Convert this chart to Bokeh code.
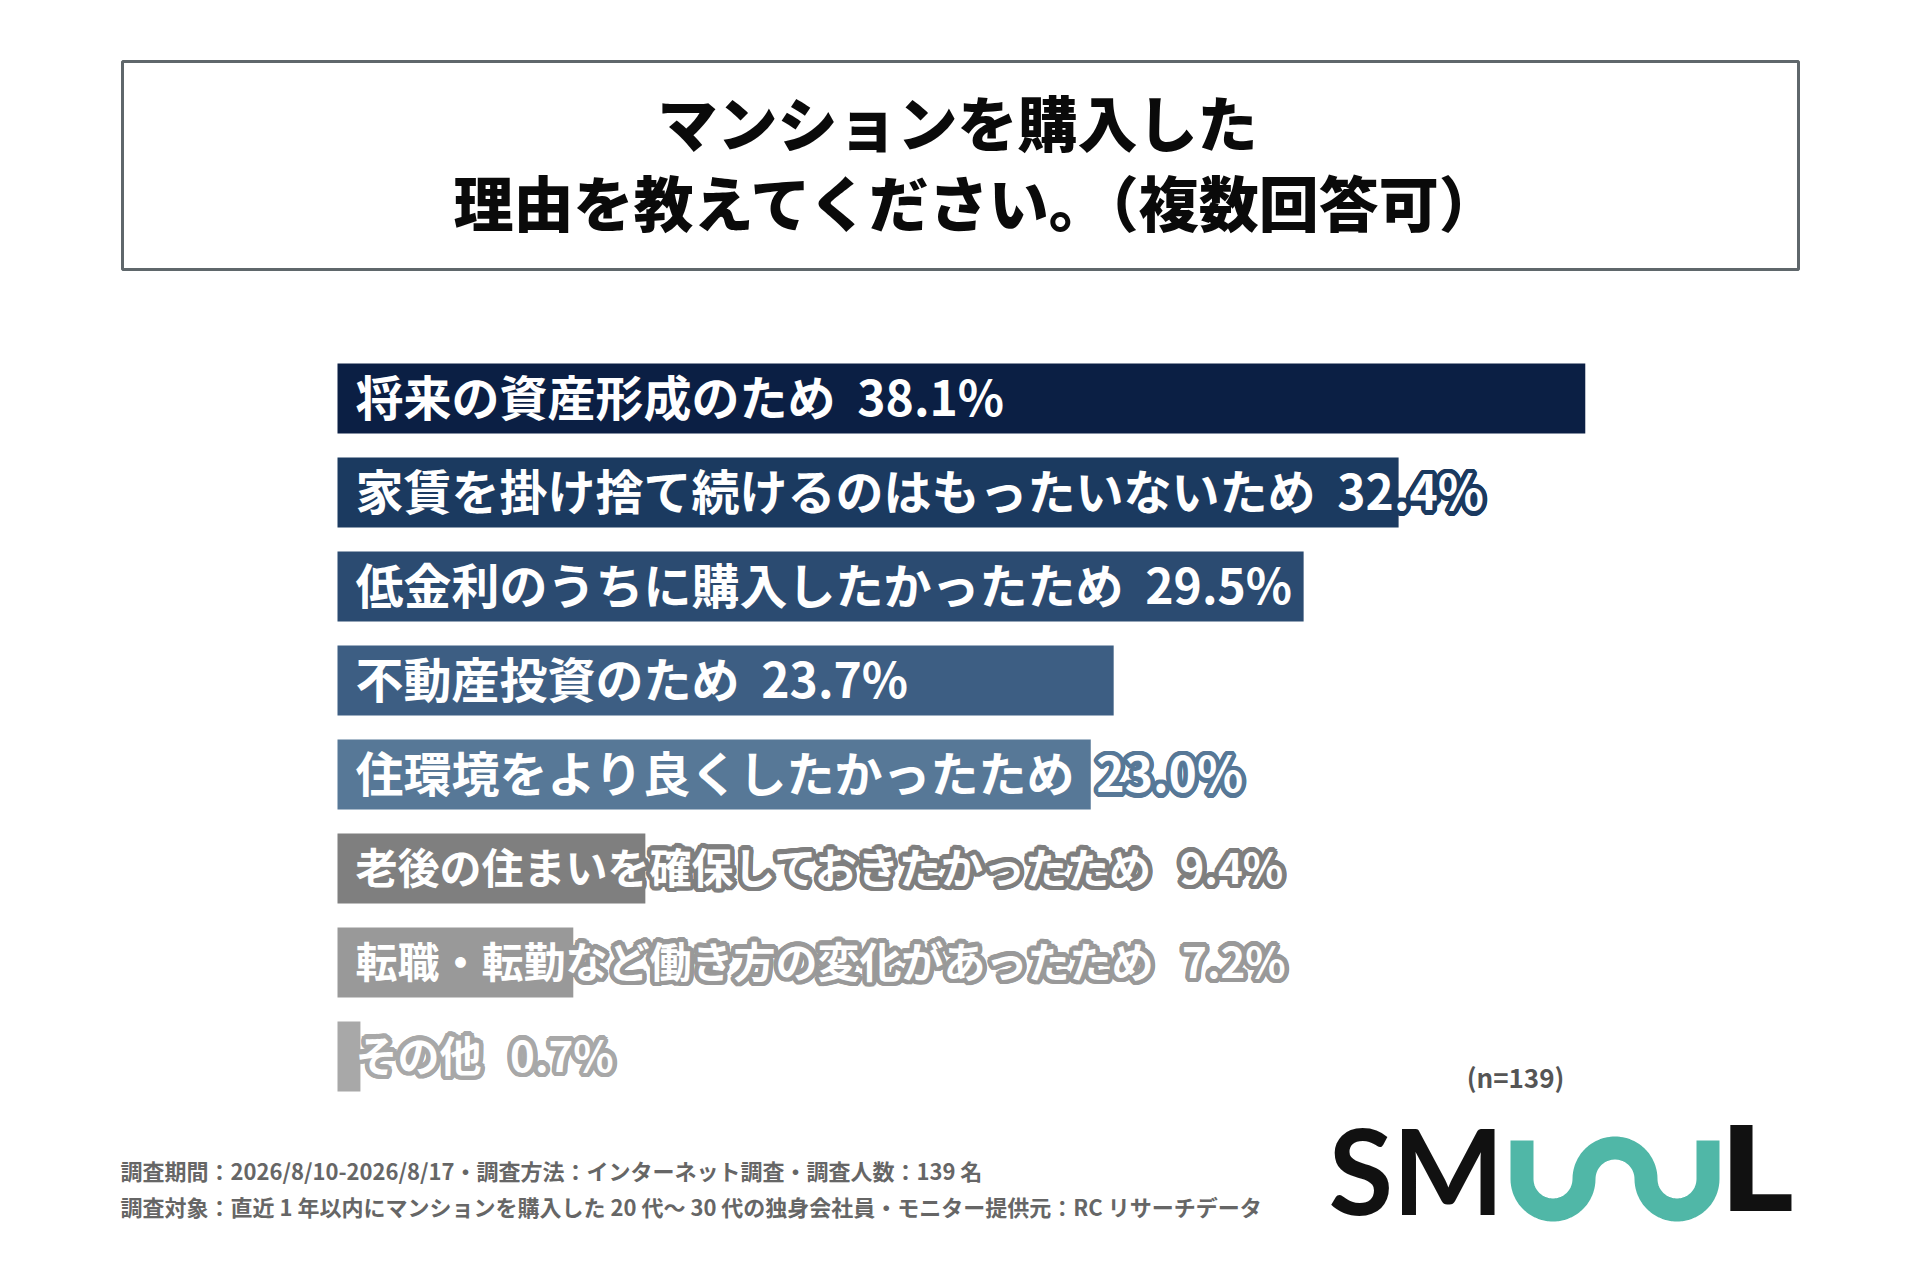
import numpy as np
from bokeh.plotting import figure
from bokeh.models import Range1d, ColumnDataSource
from bokeh.transform import dodge
from bokeh.core.properties import value
from bokeh.embed import file_html
from bokeh.resources import INLINE

# ---------------- data ----------------
categories = [
    "将来の資産形成のため",
    "家賃を掛け捨て続けるのはもったいないため",
    "低金利のうちに購入したかったため",
    "不動産投資のため",
    "住環境をより良くしたかったため",
    "老後の住まいを確保しておきたかったため",
    "転職・転勤など働き方の変化があったため",
    "その他",
]
values = [38.1, 32.4, 29.5, 23.7, 23.0, 9.4, 7.2, 0.7]
bar_colors = ["#0b1f44", "#1b3a60", "#2b4b71", "#3d5e83", "#577897",
              "#7f7f7f", "#999999", "#a8a8a8"]
label_sizes = ["48px", "48px", "48px", "48px", "48px", "42px", "42px", "42px"]
label_gaps = [2, 2, 2, 2, 2, 3, 3, 3]
title_lines = ["マンションを購入した", "理由を教えてください。（複数回答可）"]
footer_lines = [
    "調査期間：2026/8/10-2026/8/17・調査方法：インターネット調査・調査人数：139 名",
    "調査対象：直近 1 年以内にマンションを購入した 20 代～ 30 代の独身会社員・モニター提供元：RC リサーチデータ",
]
sample_note = "(n=139)"

# ---------------- layout ----------------
W, H = 1904, 1264
PX0, PPU = 337.0, 32.75         # screen x of 0 %, pixels per %
ROW0, ROWSTEP = 398.0, 94.0     # screen y of first bar centre, row pitch

x_range = Range1d((0 - PX0) / PPU, (W - PX0) / PPU)
y_range = Range1d((H - ROW0) / ROWSTEP, (0 - ROW0) / ROWSTEP)

p = figure(width=W, height=H, x_range=x_range, y_range=y_range,
           output_backend="svg", toolbar_location=None, min_border=0,
           x_axis_location=None, y_axis_location=None)
p.grid.visible = False
p.outline_line_color = None
p.background_fill_color = "white"
p.border_fill_color = "white"
p.extra_x_ranges = {"px": Range1d(0, W)}
p.extra_y_ranges = {"px": Range1d(H, 0)}

JP = value("Noto Sans CJK JP")
JP_HEAVY = value("'Noto Sans CJK JP Black', 'Noto Sans CJK JP'")

# ---------------- bars ----------------
src = ColumnDataSource(dict(
    y=list(range(len(categories))),
    v=values,
    c=bar_colors,
    fs=label_sizes,
    label=[f"{c}{chr(0xa0) * g}{v:.1f}%"
           for c, v, g in zip(categories, values, label_gaps)],
))
p.hbar(y="y", left=0, right="v", height=0.745, fill_color="c",
       line_color=None, source=src)

# outlined labels: outline copies in the bar colour, then white text
label_y = dodge("y", -0.035, range=p.y_range)
angles = np.linspace(0, 2 * np.pi, 24, endpoint=False)
R = 4.5
for a in angles:
    p.text(x=0, y=label_y, text="label", source=src,
           x_offset=18 + R * np.cos(a), y_offset=R * np.sin(a),
           text_color="c", text_baseline="middle", text_align="left",
           text_font=JP, text_font_style="bold", text_font_size="fs")
p.text(x=0, y=label_y, text="label", source=src, x_offset=18, y_offset=0,
       text_color="white", text_baseline="middle", text_align="left",
       text_font=JP, text_font_style="bold", text_font_size="fs")

# ---------------- title box ----------------
p.quad(left=[122], right=[1798], top=[61], bottom=[269], fill_color=None,
       line_color="#5f676b", line_width=3, x_range_name="px", y_range_name="px")
p.text(x=[957, 978], y=[120, 200], text=title_lines,
       text_align="center", text_baseline="middle", text_color="#0a0a0a",
       text_font=JP_HEAVY, text_font_style="bold", text_font_size="60px",
       x_range_name="px", y_range_name="px")

# ---------------- notes ----------------
p.text(x=[120, 120], y=[1169, 1205], text=footer_lines,
       text_align="left", text_baseline="middle", text_color="#666666",
       text_font=JP, text_font_style="bold", text_font_size="22px",
       x_range_name="px", y_range_name="px")
p.text(x=[1515], y=[1076], text=[sample_note],
       text_align="center", text_baseline="middle", text_color="#555555",
       text_font=JP, text_font_style="bold", text_font_size="26px",
       x_range_name="px", y_range_name="px")

# ---------------- logo ----------------
p.text(x=[1328, 1392], y=[1169, 1169], text=["S", "M"],
       text_align="left", text_baseline="alphabetic", text_color="#111111",
       text_font=value("Lato"), text_font_style="bold", text_font_size="118px",
       x_range_name="px", y_range_name="px")
p.text(x=[1719], y=[1169], text=["L"],
       text_align="left", text_baseline="alphabetic", text_color="#111111",
       text_font=value("DejaVu Sans"), text_font_style="bold",
       text_font_size="118px", x_range_name="px", y_range_name="px")
r, cx, cy = 31.0, 1552.5, 1178.5
t = np.linspace(0, np.pi, 40)
wx = [cx - r, cx - r]
wy = [1140.0, cy]
wx += list(cx - r * np.cos(t)); wy += list(cy + r * np.sin(t))
wx += list(cx + 2 * r - r * np.cos(t)); wy += list(cy - r * np.sin(t))
wx += list(cx + 4 * r - r * np.cos(t)); wy += list(cy + r * np.sin(t))
wx += [cx + 5 * r]; wy += [1140.0]
p.line(wx, wy, line_color="#50b7a7", line_width=23, line_cap="butt",
       line_join="round", x_range_name="px", y_range_name="px")

open("out.html", "w").write(file_html(p, INLINE))
